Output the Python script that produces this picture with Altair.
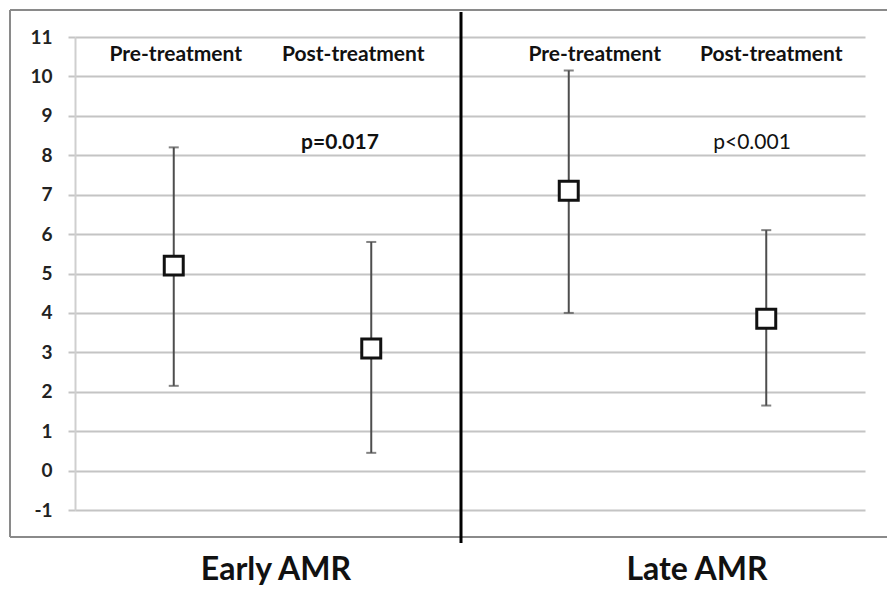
import altair as alt
import pandas as pd

# Group means with lower / upper bounds of the error bars
keys = ["early_pre", "early_post", "late_pre", "late_post"]
phase = ["Pre-treatment", "Post-treatment", "Pre-treatment", "Post-treatment"]
group = ["Early AMR", "Early AMR", "Late AMR", "Late AMR"]
means = [5.2, 3.1, 7.1, 3.85]
lower = [2.15, 0.45, 4.0, 1.65]
upper = [8.2, 5.8, 10.15, 6.1]

p_labels = ["p=0.017", "p<0.001"]
y_ticks = list(range(-1, 12))

df = pd.DataFrame({"key": keys, "phase": phase, "group": group,
                   "mean": means, "lo": lower, "hi": upper})

FONT = "Lato"
W, H = 790, 473
PAD_L, PAD_T = 75, 37

xs = alt.X("key:N", scale=alt.Scale(type="point", padding=0.5, domain=keys), axis=None)
yscale = alt.Scale(domain=[-1, 11], nice=False, zero=False)
yaxis = alt.Axis(values=y_ticks, title=None, grid=True, gridColor="#c4c4c4", gridWidth=2,
                 tickColor="#c4c4c4", tickSize=7, tickWidth=2, domainColor="#cfcfcf",
                 domainWidth=2, labelFont=FONT, labelFontSize=19, labelFontWeight=700,
                 labelColor="#222222", labelPadding=16, labelOverlap=False,
                 labelExpr="'' + datum.value")


def yenc(field):
    return alt.Y(field, scale=yscale, axis=yaxis)


base = alt.Chart(df)

whisker = base.mark_rule(color="#4d4d4d", strokeWidth=2).encode(
    x=xs, y=yenc("lo:Q"), y2="hi:Q")
caps_hi = base.mark_tick(color="#4d4d4d", thickness=2, size=10, orient="horizontal").encode(
    x=xs, y=yenc("hi:Q"))
caps_lo = base.mark_tick(color="#4d4d4d", thickness=2, size=10, orient="horizontal").encode(
    x=xs, y=yenc("lo:Q"))
boxes = base.mark_point(shape="square", filled=True, fill="white", stroke="#111111",
                        strokeWidth=3, size=360, opacity=1).encode(
    x=xs, y=yenc("mean:Q"))

# Phase headers above each column
hdr_style = dict(font=FONT, fontSize=21, fontWeight=700, color="#111111", baseline="middle")
header_offsets = [2, -18, 26, 5]
headers = []
for k, ph, off in zip(keys, phase, header_offsets):
    headers.append(
        alt.Chart(pd.DataFrame({"key": [k], "label": [ph]})).mark_text(dx=off, **hdr_style).encode(
            x=xs, y=alt.value(18), text="label:N"))

# p-values between the paired columns
p_weights = [700, 400]
p_pos = [(340, "early_post"), (752, "late_post")]
pvals = []
for lab, wt, (cx, k) in zip(p_labels, p_weights, p_pos):
    pvals.append(
        alt.Chart(pd.DataFrame({"key": [k], "label": [lab]})).mark_text(
            font=FONT, fontSize=21, fontWeight=wt, color="#111111", baseline="middle",
            dx=cx - PAD_L - (W / 4) * (keys.index(k) + 0.5)).encode(
            x=xs, y=alt.value(106), text="label:N"))

# Group titles under the frame
groups = ["Early AMR", "Late AMR"]
group_x = [276, 697]
gtitles = []
for g, gx in zip(groups, group_x):
    gtitles.append(
        alt.Chart(pd.DataFrame({"label": [g]})).mark_text(
            font=FONT, fontSize=32, fontWeight=700, color="#111111", baseline="middle").encode(
            x=alt.value(gx - PAD_L), y=alt.value(570 - PAD_T), text="label:N"))

# Outer frame and the divider between the two groups
one = pd.DataFrame({"a": [0]})
frame_col = "#8a8a8a"
frame = [
    alt.Chart(one).mark_rule(color=frame_col, strokeWidth=2).encode(
        x=alt.value(10 - PAD_L), x2=alt.value(887 - PAD_L), y=alt.value(10 - PAD_T)),
    alt.Chart(one).mark_rule(color=frame_col, strokeWidth=2).encode(
        x=alt.value(10 - PAD_L), x2=alt.value(887 - PAD_L), y=alt.value(537 - PAD_T)),
    alt.Chart(one).mark_rule(color=frame_col, strokeWidth=2).encode(
        x=alt.value(10 - PAD_L), y=alt.value(10 - PAD_T), y2=alt.value(537 - PAD_T)),
    alt.Chart(one).mark_rule(color="#000000", strokeWidth=3).encode(
        x=alt.value(461 - PAD_L), y=alt.value(12 - PAD_T), y2=alt.value(543 - PAD_T)),
]

chart = alt.layer(whisker, caps_hi, caps_lo, boxes, *headers, *pvals, *gtitles, *frame).properties(
    width=W, height=H,
    autosize=alt.AutoSizeParams(type="none"),
    padding={"left": PAD_L, "top": PAD_T, "right": 887 - PAD_L - W, "bottom": 589 - PAD_T - H},
    background="white",
).configure_view(stroke=None)

chart.save("out.html", embed_options={"renderer": "svg", "actions": False})
